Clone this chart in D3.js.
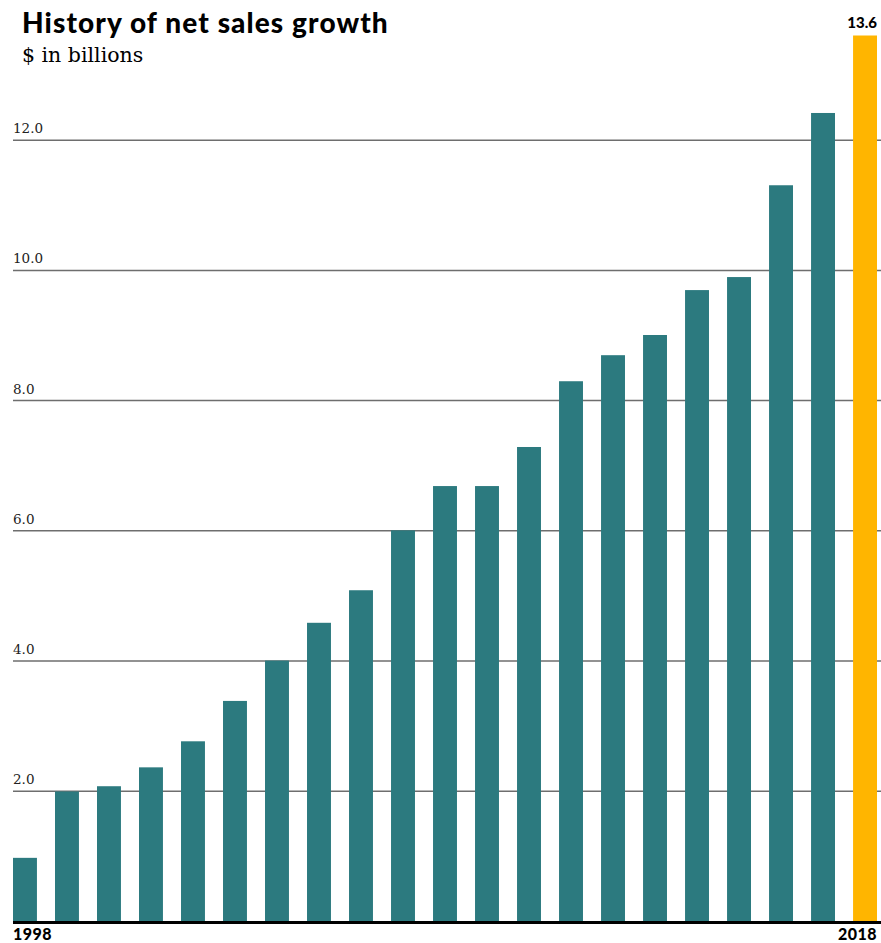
<!DOCTYPE html>
<html>
<head>
<meta charset="utf-8">
<script src="https://cdn.jsdelivr.net/npm/d3@7"></script>
<style>
  body { margin: 0; background: #fff; }
</style>
</head>
<body>
<script>
const w = 881, h = 943;

const years = [1998, 1999, 2000, 2001, 2002, 2003, 2004, 2005, 2006, 2007,
  2008, 2009, 2010, 2011, 2012, 2013, 2014, 2015, 2016, 2017, 2018];
const sales = [0.97, 1.99, 2.07, 2.36, 2.76, 3.38, 4.0, 4.58, 5.08, 6.0,
  6.68, 6.68, 7.28, 8.29, 8.69, 9.0, 9.69, 9.89, 11.3, 12.41, 13.6];
const yTicks = [2, 4, 6, 8, 10, 12];

const data = years.map((y, i) => ({year: y, sales: sales[i]}));
const last = years.length - 1;

const x = d3.scaleBand()
  .domain(years)
  .range([13, 877])
  .paddingInner(0.43)
  .paddingOuter(0);

const y = d3.scaleLinear()
  .domain([0, 13.6])
  .range([921, 35.5]);

const svg = d3.select('body').append('svg')
  .attr('width', w)
  .attr('height', h);

// title
svg.append('text')
  .text('History of net sales growth')
  .attr('x', 22)
  .attr('y', 33)
  .attr('font-family', 'Lato, sans-serif')
  .attr('font-weight', 900)
  .attr('font-size', '28px')
  .attr('letter-spacing', '1.1px')
  .attr('fill', '#000');

svg.append('text')
  .text('$ in billions')
  .attr('x', 22)
  .attr('y', 62)
  .attr('font-family', '"DejaVu Serif", serif')
  .attr('font-size', '20.5px')
  .attr('fill', '#000');

// gridlines
const grid = svg.append('g')
  .attr('transform', 'translate(13,0)')
  .call(d3.axisRight(y)
    .tickValues(yTicks)
    .tickSize(868)
    .tickFormat(d3.format('.1f')));

grid.select('.domain').remove();
grid.selectAll('.tick line')
  .attr('stroke', '#6e6e6e')
  .attr('stroke-width', 1.5);
grid.selectAll('.tick text')
  .attr('x', 0)
  .attr('dy', '-7px')
  .attr('text-anchor', 'start')
  .attr('font-family', '"DejaVu Serif", serif')
  .attr('font-size', '13.5px')
  .attr('fill', '#222');

// bars
svg.selectAll('rect.bar')
  .data(data)
  .enter()
  .append('rect')
  .attr('class', 'bar')
  .attr('x', (d) => x(d.year))
  .attr('y', (d) => y(d.sales))
  .attr('width', x.bandwidth())
  .attr('height', (d) => y(0) - y(d.sales))
  .attr('fill', (d, i) => i === last ? '#ffb500' : '#2c7a7f');

// baseline
svg.append('line')
  .attr('x1', 13)
  .attr('x2', 881)
  .attr('y1', y(0) + 1.5)
  .attr('y2', y(0) + 1.5)
  .attr('stroke', '#000')
  .attr('stroke-width', 3);

// end labels
svg.append('text')
  .text(years[0])
  .attr('x', 13)
  .attr('y', 940)
  .attr('font-family', 'Lato, sans-serif')
  .attr('font-weight', 900)
  .attr('font-size', '16px')
  .attr('letter-spacing', '0.5px');

svg.append('text')
  .text(years[last])
  .attr('x', 877)
  .attr('y', 940)
  .attr('text-anchor', 'end')
  .attr('font-family', 'Lato, sans-serif')
  .attr('font-weight', 900)
  .attr('font-size', '16px')
  .attr('letter-spacing', '0.5px');

svg.append('text')
  .text(d3.format('.1f')(sales[last]))
  .attr('x', 877)
  .attr('y', y(sales[last]) - 8)
  .attr('text-anchor', 'end')
  .attr('font-family', 'Lato, sans-serif')
  .attr('font-weight', 900)
  .attr('font-size', '15px');
</script>
</body>
</html>
